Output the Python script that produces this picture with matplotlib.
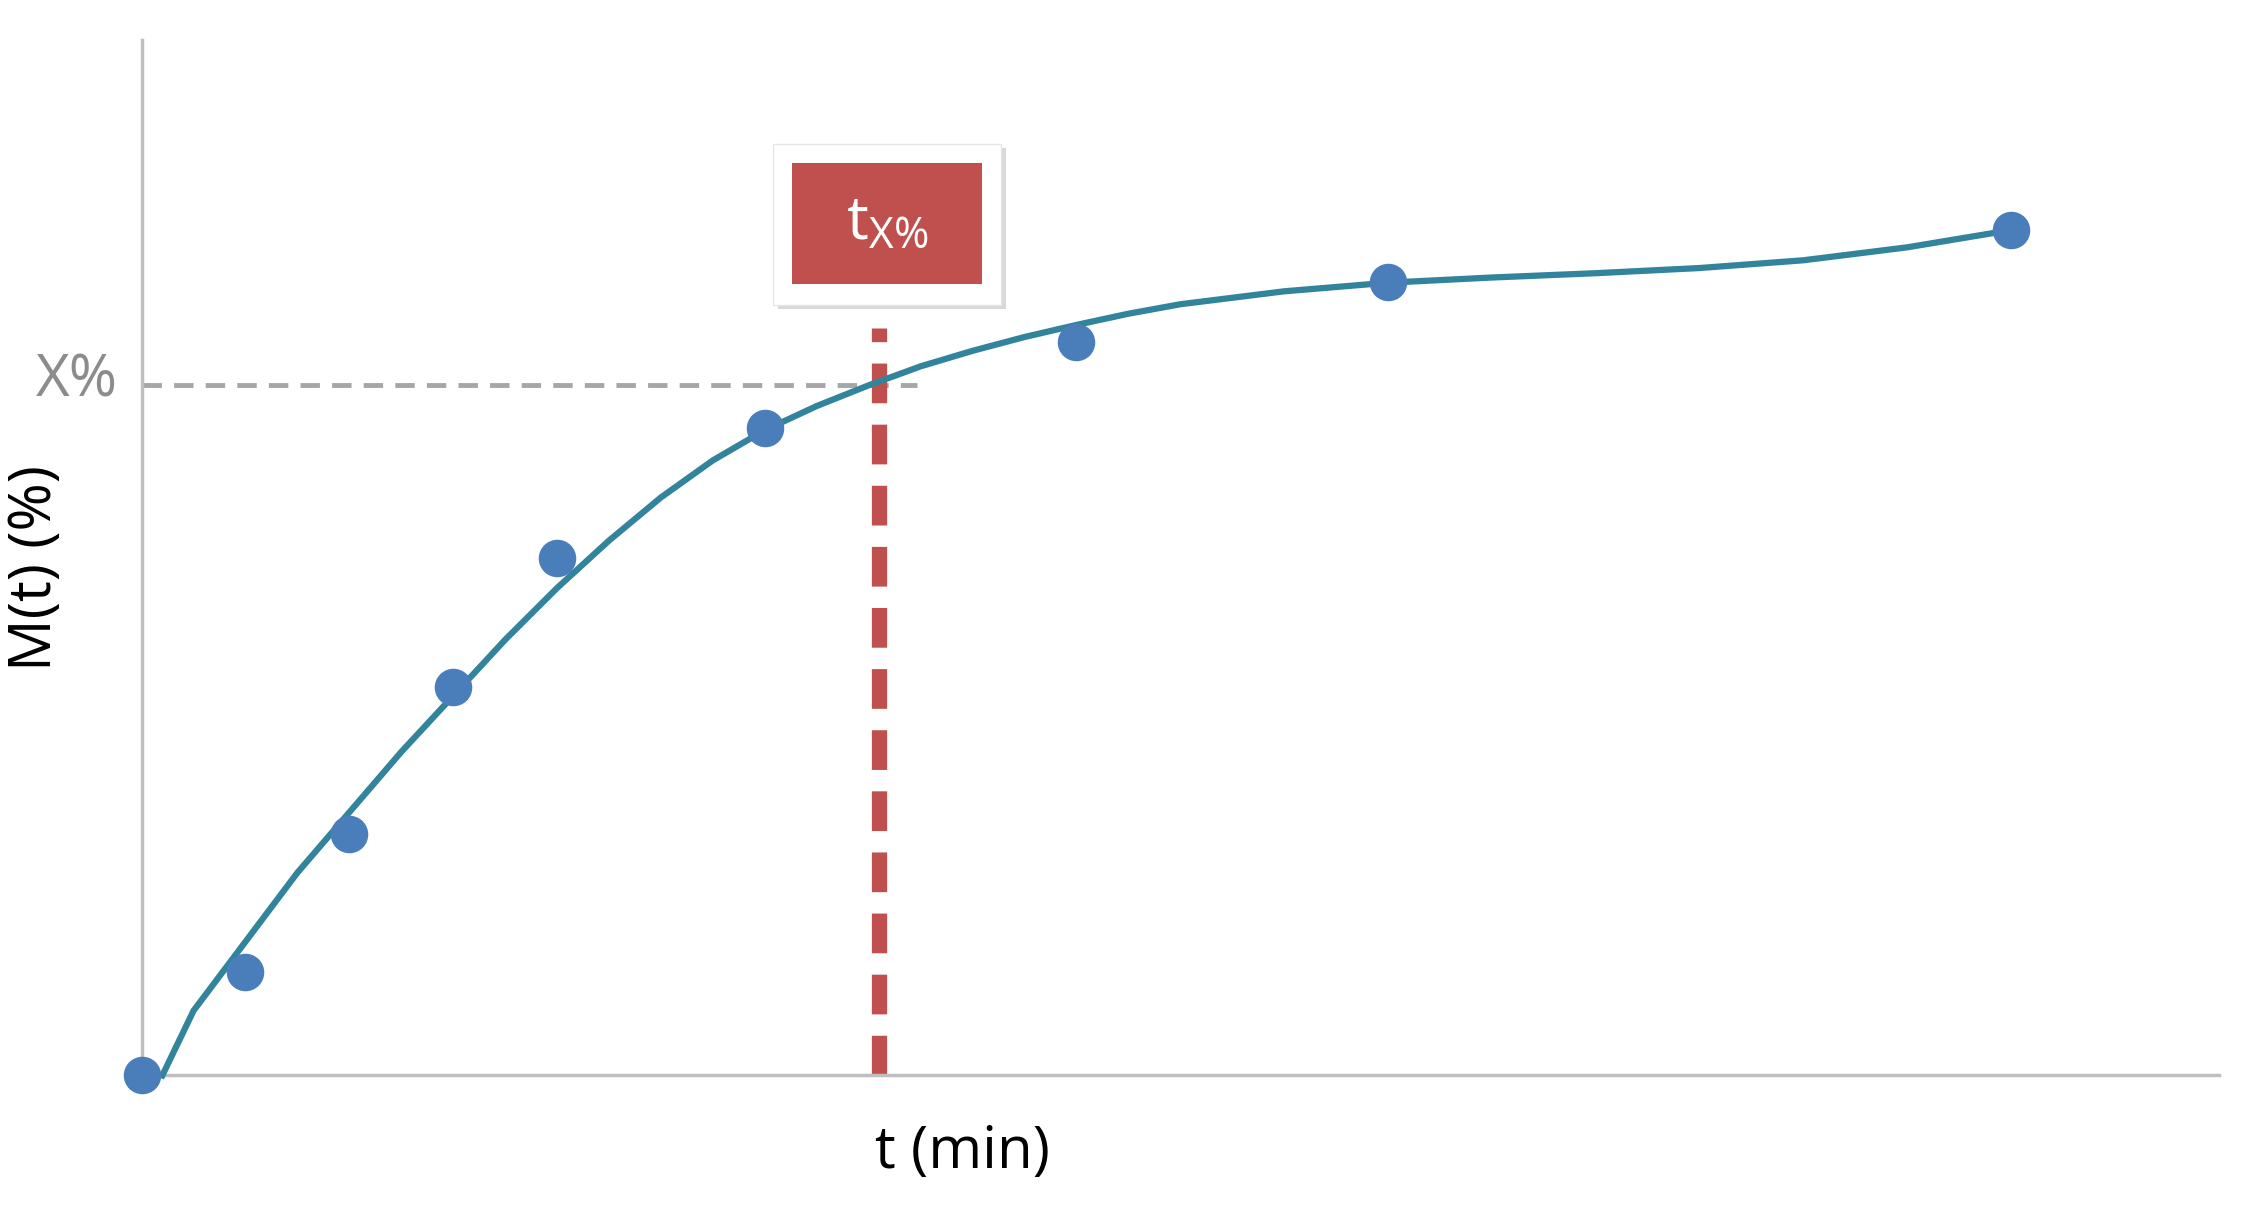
import matplotlib.pyplot as plt
from matplotlib.patches import Rectangle

plt.rcParams['font.family'] = ['Open Sans', 'DejaVu Sans']

# measured points
t_points = [0, 1, 2, 3, 4, 6, 9, 12, 18]
m_points = [0, 12, 28, 45, 60, 75, 85, 92, 98]

# fitted curve
t_curve = [0.2, 0.5, 1, 1.5, 2, 2.5, 3, 3.5, 4, 4.5, 5, 5.5, 6, 6.5, 7, 7.5, 8, 8.5, 9, 9.5, 10, 11, 12, 13, 14, 15, 16, 17, 18]
m_curve = [0, 7.5, 15.5, 23.5, 30.5, 37.5, 44, 50.5, 56.5, 62, 67, 71.3, 74.8, 77.6, 80, 82.2, 84, 85.6, 87, 88.3, 89.4, 90.9, 91.9, 92.5, 93, 93.6, 94.5, 96, 98]

x_level = 80
t_x = 7.1

fig = plt.figure(figsize=(22.48, 12.22), dpi=100)
ax = fig.add_axes([0.063, 0.12, 0.924, 0.847])
ax.set_xlim(0, 20)
ax.set_ylim(0, 120)
ax.set_xticks([])
ax.set_yticks([])
for s in ["top", "right"]:
    ax.spines[s].set_visible(False)
for s in ["left", "bottom"]:
    ax.spines[s].set_color("#bfbfbf")
    ax.spines[s].set_linewidth(2.5)

ax.plot([0, 7.47], [x_level, x_level], ls=(0, (4, 2.5)), color="#a6a6a6", lw=3.5, zorder=2)
ax.plot([t_x, t_x], [0, 86.7], ls=(0, (2.6, 1.4)), color="#c0504d", lw=11, zorder=2)
ax.plot(t_curve, m_curve, color="#31849b", lw=4.5, zorder=3, clip_on=False,
        solid_joinstyle="round")
ax.plot(t_points, m_points, "o", color="#4a7ebb", ms=26, zorder=4, clip_on=False)

# label box
ax.add_patch(Rectangle((6.13, 88.8), 2.19, 18.7, facecolor="#d9d9d9", edgecolor="none", zorder=4))
ax.add_patch(Rectangle((6.08, 89.3), 2.19, 18.7, facecolor="white", edgecolor="#e6e6e6", zorder=5))
ax.add_patch(Rectangle((6.26, 91.7), 1.83, 14.1, facecolor="#c0504d", edgecolor="none", zorder=6))
ax.text(7.175, 98.8, r"t$_{\mathregular{X\%}}$", color="white", fontsize=44, ha="center", va="center", zorder=7)

ax.text(-0.62, x_level + 0.5, "X%", color="#8c8c8c", fontsize=42, ha="center", va="center", clip_on=False)
ax.set_ylabel("M(t) (%)", fontsize=42)
ax.yaxis.set_label_coords(-0.037, 0.49)
ax.text(7.9, -9, "t (min)", fontsize=42, ha="center", va="center", clip_on=False)

fig.savefig("out.png")
